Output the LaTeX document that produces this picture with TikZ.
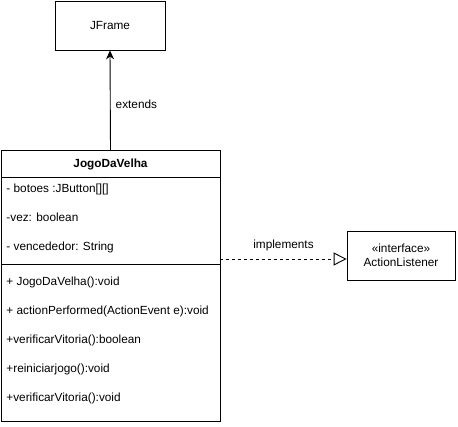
\documentclass[tikz,border=0pt]{standalone}
\usepackage{fontspec}
\setmainfont{Liberation Sans}
\usetikzlibrary{arrows.meta,positioning}

\tikzset{
  umlbox/.style={draw,thick,fill=white,inner sep=0pt},
  member/.style={anchor=west,inner sep=0pt,text height=8.5pt,text depth=2.5pt,font=\fontsize{11.8}{13}\selectfont},
  lbl/.style={inner sep=0pt,font=\fontsize{11.8}{13}\selectfont}
}

\begin{document}
\begin{tikzpicture}[x=1pt,y=-1pt,line width=0.9pt]
  \useasboundingbox (0,0) rectangle (458,427);
  % JFrame
  \node[umlbox,minimum width=110pt,minimum height=49pt,lbl] (jframe) at (110,25.5) {JFrame};
  % Class box
  \node[umlbox,minimum width=219pt,minimum height=271pt] (cls) at (110.5,286) {};
  \node[lbl,font=\fontsize{11.8}{13}\selectfont\bfseries] (clsname) at (110.5,164) {JogoDaVelha};
  \coordinate (sepA) at (1,177);
  \coordinate (sepB) at (1,264);
  \draw (sepA) -- (sepA -| cls.east);
  \draw (sepB) -- (sepB -| cls.east);
  % Attributes
  \node[member] (a1) at (6,189.5) {- botoes :JButton[][]};
  \node[member] (a2) at (6,218.5) {-vez: boolean};
  \node[member] (a3) at (6,247.5) {- vencededor: String};
  % Methods
  \node[member] (m1) at (6,282.5) {+ JogoDaVelha():void};
  \node[member] (m2) at (6,311.5) {+ actionPerformed(ActionEvent e):void};
  \node[member] (m3) at (6,340.5) {+verificarVitoria():boolean};
  \node[member] (m4) at (6,369.5) {+reiniciarjogo():void};
  \node[member] (m5) at (6,398.5) {+verificarVitoria():void};
  % Interface
  \node[umlbox,minimum width=108pt,minimum height=49pt,lbl,align=center] (iface) at (401,255.5) {«interface»\\[1pt]ActionListener};
  % Relations
  \draw[-{Stealth[length=9pt,width=8pt]}] (cls.north) -- (jframe.south)
    node[lbl,pos=0.46,right=5pt] (ext) {extends};
  \coordinate (implStart) at (cls.east |- 0,259);
  \draw[dashed,dash pattern=on 3pt off 3pt,-{Triangle[open,length=13pt,width=13pt]}] (implStart) -- (implStart -| iface.west)
    node[lbl,midway,above=8pt] (impl) {implements};
\end{tikzpicture}
\end{document}
